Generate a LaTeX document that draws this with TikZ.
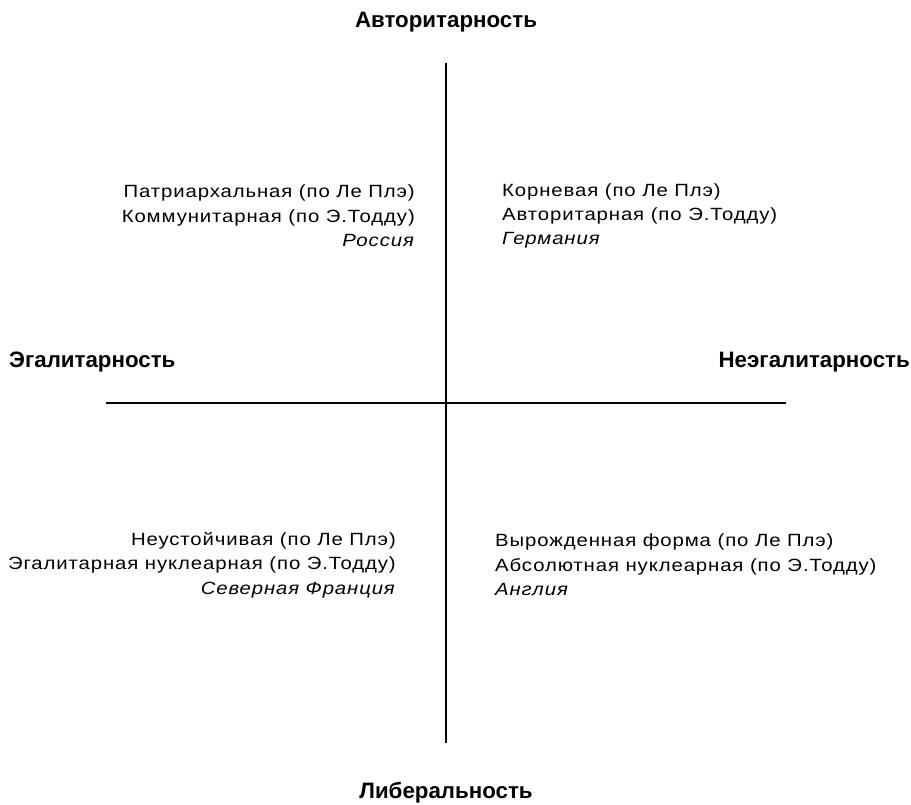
\documentclass[tikz,border=0pt]{standalone}
\usepackage{fontspec}
\setmainfont{Liberation Sans}
\newfontfamily\quadfont[FakeStretch=1.15,LetterSpace=5]{Liberation Sans}
\begin{document}
\begin{tikzpicture}[x=1pt,y=-1pt,
  axislabel/.style={font=\fontsize{22.3}{24}\selectfont\bfseries, inner sep=0pt},
  quad/.style={font=\quadfont\fontsize{17.7}{24.4}\selectfont, inner sep=0pt},
  axisline/.style={line width=1.4pt}]
\useasboundingbox (0,0) rectangle (911,805);
\coordinate (vt) at (446,63);
\coordinate (vb) at (446,743);
\coordinate (hl) at (106,403);
\coordinate (hr) at (786,403);
\draw[axisline] (vt) -- (vb);
\draw[axisline] (hl) -- (hr);
\node[axislabel] (top) at (446,22) {Авторитарность};
\node[axislabel] (bot) at (446,793) {Либеральность};
\node[axislabel, anchor=west] (left) at (9,362) {Эгалитарность};
\node[axislabel, anchor=east] (right) at (910,362) {Неэгалитарность};
\node[quad, anchor=east, align=right] (tl) at (415,216) {Патриархальная (по Ле Плэ)\\Коммунитарная (по Э.Тодду)\\\textit{Россия}};
\node[quad, anchor=west, align=left] (tr) at (502,216) {Корневая (по Ле Плэ)\\Авторитарная (по Э.Тодду)\\\textit{Германия}};
\node[quad, anchor=east, align=right] (bl) at (396,565) {Неустойчивая (по Ле Плэ)\\Эгалитарная нуклеарная (по Э.Тодду)\\\textit{Северная Франция}};
\node[quad, anchor=west, align=left] (br) at (495,565) {Вырожденная форма (по Ле Плэ)\\Абсолютная нуклеарная (по Э.Тодду)\\\textit{Англия}};
\end{tikzpicture}
\end{document}
